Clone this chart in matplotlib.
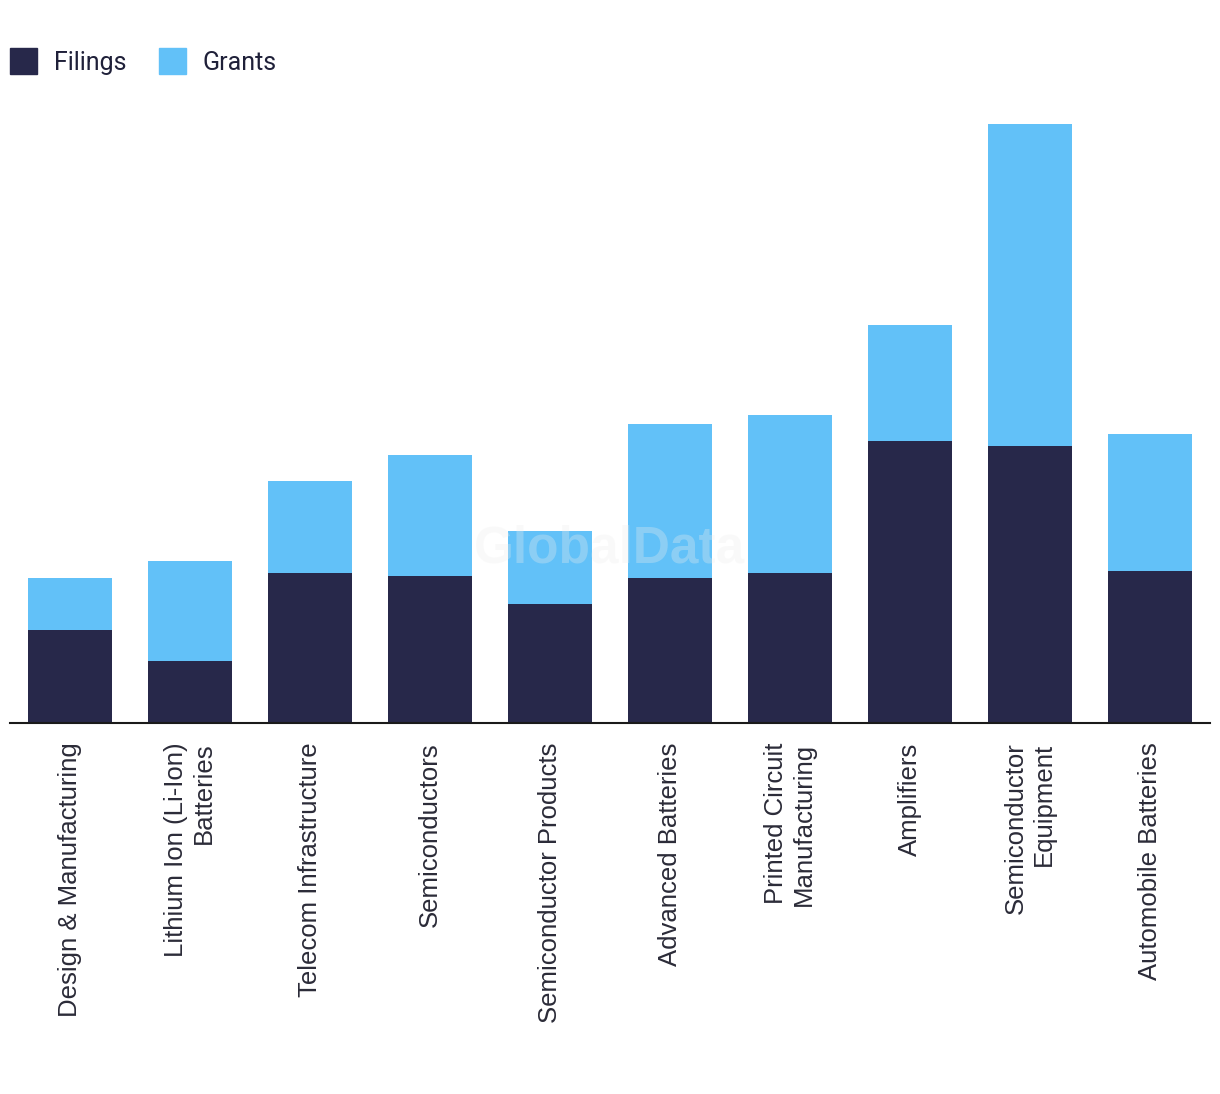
import numpy as np
import matplotlib
matplotlib.use('Agg')
from matplotlib import pyplot as plt
from matplotlib.patches import Patch

categories = ['Design & Manufacturing', 'Lithium Ion (Li-Ion)\nBatteries',
              'Telecom Infrastructure', 'Semiconductors',
              'Semiconductor Products', 'Advanced Batteries',
              'Printed Circuit\nManufacturing', 'Amplifiers',
              'Semiconductor\nEquipment', 'Automobile Batteries']
filings = [93, 62, 150, 147, 119, 145, 150, 282, 277, 152]
grants = [52, 100, 92, 121, 73, 154, 158, 116, 322, 137]

navy = '#27284a'
blue = '#62c1f8'
text_col = '#2b2b38'

plt.rcParams['font.family'] = ['Liberation Sans', 'DejaVu Sans']

fig = plt.figure(figsize=(12.2, 10.94), dpi=100)
ax = fig.add_axes([10/1220, (1094-723)/1094, 1200/1220, 623/1094])

x = np.arange(len(categories))
ax.bar(x, filings, width=0.7, color=navy, zorder=2)
ax.bar(x, grants, width=0.7, bottom=filings, color=blue, zorder=2)

ax.set_xlim(-0.5, len(categories) - 0.5)
ax.set_ylim(0, 623)
ax.set_yticks([])
ax.set_xticks(x)
ax.set_xticklabels(categories, rotation=90, fontsize=18.5, color=text_col,
                   va='top', ha='center', multialignment='right')
ax.tick_params(axis='x', length=0, pad=14)
for s in ['top', 'right', 'left']:
    ax.spines[s].set_visible(False)
ax.spines['bottom'].set_linewidth(1.5)
ax.spines['bottom'].set_color('#1a1a1a')
ax.spines['bottom'].set_zorder(3)

# faint watermark
ax.text(0.5, 0.28, 'GlobalData', transform=ax.transAxes, ha='center', va='center',
        fontsize=37, fontweight='bold', color='#eeeeee', alpha=0.3, zorder=3)

handles = [Patch(color=navy, label='Filings'), Patch(color=blue, label='Grants')]
fig.legend(handles=handles, loc='upper left', bbox_to_anchor=(0.002, 0.963),
           ncol=2, frameon=False, handlelength=1.1, handleheight=1.25,
           handletextpad=0.65, columnspacing=1.3, labelcolor='#1f2039',
           borderaxespad=0.0, borderpad=0.3,
           prop={'family': ['Roboto', 'DejaVu Sans'], 'size': 18})

fig.savefig('out.png', dpi=100, facecolor='white')
